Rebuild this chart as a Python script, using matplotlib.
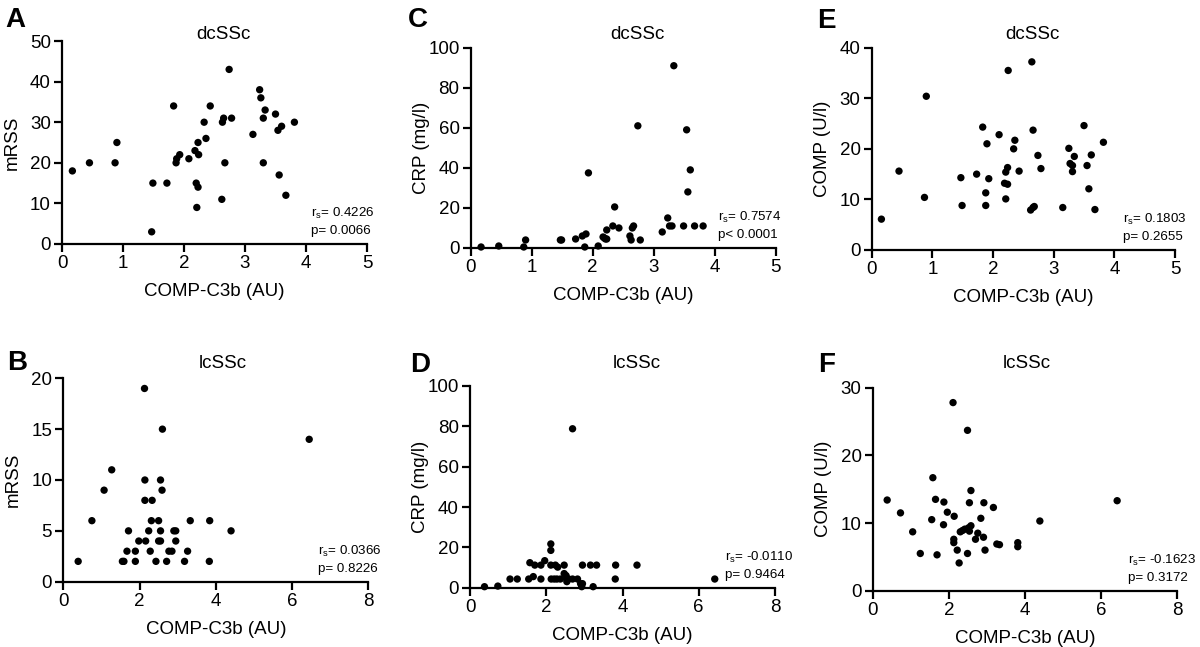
import matplotlib
matplotlib.use("Agg")
import matplotlib.pyplot as plt

plt.rcParams['font.family'] = ['Liberation Sans', 'DejaVu Sans']
plt.rcParams['mathtext.fontset'] = 'custom'
plt.rcParams['mathtext.rm'] = 'Liberation Sans'
plt.rcParams['mathtext.it'] = 'Liberation Sans'

# ---- data ----
a_x = [0.17,0.45,0.87,0.90,1.47,1.49,1.72,1.83,1.87,1.88,1.93,2.08,2.18,2.20,2.23,2.21,2.23,2.24,2.33,2.36,2.43,2.62,2.63,2.65,2.67,2.74,2.78,3.13,3.24,3.26,3.30,3.30,3.33,3.50,3.54,3.56,3.60,3.67,3.81]
a_y = [18,20,20,25,3,15,15,34,20,21,22,21,23,15,14,9,25,22,30,26,34,11,30,31,20,43,31,27,38,36,31,20,33,32,28,17,29,12,30]

c_x = [0.17,0.46,0.87,0.90,1.47,1.49,1.72,1.83,1.87,1.89,1.93,2.09,2.17,2.19,2.21,2.23,2.23,2.33,2.36,2.43,2.61,2.63,2.65,2.67,2.74,2.78,3.14,3.23,3.26,3.30,3.33,3.49,3.54,3.56,3.60,3.67,3.81]
c_y = [0.5,1,0.5,4,4,4,4.5,6,0.5,7,37.5,1,5.5,5,4.5,4.5,9,11,20.5,10,6,4,10,11,61,4,8,15,11,11,91,11,59,28,39,11,11]

e_x = [0.16,0.45,0.87,0.90,1.47,1.49,1.73,1.83,1.88,1.88,1.90,1.93,2.10,2.19,2.21,2.21,2.24,2.25,2.24,2.34,2.36,2.43,2.62,2.64,2.66,2.66,2.68,2.74,2.79,3.15,3.25,3.27,3.31,3.31,3.34,3.50,3.55,3.58,3.62,3.68,3.82]
e_y = [6.1,15.6,10.4,30.4,14.3,8.8,15,24.3,11.3,8.8,21,14.1,22.8,13.2,10.1,15.4,16.3,35.5,13,20,21.7,15.6,7.9,37.2,23.7,8.4,8.6,18.7,16.1,8.4,20.1,17.1,16.7,15.5,18.5,24.6,16.7,12.1,18.8,8,21.3]

b_x = [0.39,0.75,1.07,1.27,1.55,1.59,1.67,1.71,1.89,1.89,1.98,2.13,2.14,2.14,2.16,2.24,2.28,2.33,2.31,2.43,2.50,2.50,2.55,2.55,2.55,2.59,2.60,2.71,2.77,2.85,2.90,2.95,2.95,3.18,3.26,3.33,3.84,3.83,4.40,6.45]
b_y = [2,6,9,11,2,2,3,5,3,2,4,19,10,8,4,5,3,8,6,2,6,4,4,10,5,9,15,2,3,3,5,5,4,2,3,6,6,2,5,14]

d_x = [0.38,0.73,1.05,1.24,1.54,1.57,1.66,1.70,1.86,1.96,1.86,2.12,2.12,2.12,2.13,2.21,2.28,2.37,2.24,2.30,2.47,2.47,2.52,2.54,2.54,2.59,2.69,2.82,2.69,2.90,2.93,2.95,2.95,3.16,3.32,3.23,3.82,3.81,4.38,6.42]
d_y = [0.5,0.8,4.3,4.3,4.3,12.4,5.5,11.2,11.2,13.4,4.3,21.7,18.5,11.2,4.3,4.3,4.3,4.3,11.2,10.2,11.2,7,6,3,4.3,4.3,78.8,4.3,4.3,2,0.5,2,11.2,11.2,11.2,0.5,11.2,4.3,11.2,4.3]

f_x = [0.38,0.73,1.05,1.25,1.55,1.58,1.65,1.69,1.87,1.86,1.96,2.11,2.14,2.13,2.13,2.22,2.27,2.30,2.36,2.42,2.49,2.49,2.52,2.54,2.58,2.54,2.58,2.70,2.76,2.84,2.91,2.92,2.95,3.17,3.26,3.33,3.81,3.81,4.39,6.42]
f_y = [13.4,11.5,8.7,5.5,10.5,16.7,13.5,5.3,13.1,9.75,11.6,27.8,11,7.6,7.1,6,4.1,8.7,8.9,9.1,23.7,5.5,9.3,8.8,14.8,13,9.6,7.6,8.5,10.7,7.9,13,6,12.3,6.9,6.8,7.1,6.5,10.3,13.3]

titles = ["dcSSc", "dcSSc", "dcSSc", "lcSSc", "lcSSc", "lcSSc"]
ylabels = ["mRSS", "CRP (mg/l)", "COMP (U/l)", "mRSS", "CRP (mg/l)", "COMP (U/l)"]
letters = ["A", "C", "E", "B", "D", "F"]
rs_vals = ["0.4226", "0.7574", "0.1803", "0.0366", "-0.0110", "-0.1623"]
p_vals = ["p= 0.0066", "p< 0.0001", "p= 0.2655", "p= 0.8226", "p= 0.9464", "p= 0.3172"]
xlabel = "COMP-C3b (AU)"

W, H = 1200, 647
fig = plt.figure(figsize=(12, 6.47), dpi=100)

# axes rectangles in pixels: left, top, right, bottom
rects = [(62, 41, 367, 244), (470.7, 47.7, 775.7, 248), (871.7, 47.7, 1175, 250),
         (63.3, 378.3, 368.3, 581.7), (470, 386, 775, 587.7), (872.7, 387.7, 1177.3, 590.7)]
ylims = [50, 100, 40, 20, 100, 30]
ysteps = [10, 20, 10, 5, 20, 10]
xmaxs = [5, 5, 5, 8, 8, 8]
xsteps = [1, 1, 1, 2, 2, 2]
title_pos = [(223, 39), (637, 39), (1032, 39), (223, 368), (637, 368), (1027, 368)]
letter_pos = [(5, 27), (408, 27), (817, 28), (7, 370), (410, 372), (818, 372)]
ann_left = [311, 718, 1123, 318, 725, 1128]

datasets = [(a_x, a_y), (c_x, c_y), (e_x, e_y), (b_x, b_y), (d_x, d_y), (f_x, f_y)]

for i, ((x, y), (l, t, r, b)) in enumerate(zip(datasets, rects)):
    ax = fig.add_axes([l / W, 1 - b / H, (r - l) / W, (b - t) / H])
    ax.scatter(x, y, s=28, color='black', edgecolors='none', clip_on=False, zorder=3)
    ax.set_xlim(0, xmaxs[i])
    ax.set_ylim(0, ylims[i])
    ax.set_xticks(range(0, xmaxs[i] + 1, xsteps[i]))
    ax.set_yticks(range(0, ylims[i] + 1, ysteps[i]))
    for s in ['top', 'right']:
        ax.spines[s].set_visible(False)
    for s in ['left', 'bottom']:
        ax.spines[s].set_linewidth(1.6)
    ax.tick_params(width=1.6, length=5.5, labelsize=13.5, pad=2.5, direction='out')
    ax.set_xlabel(xlabel, fontsize=13.5, labelpad=8)
    ax.set_ylabel(ylabels[i], fontsize=13.5)
    ax.yaxis.set_label_coords(-0.135, 0.5)
    # annotation
    bx = ann_left[i]
    fig.text(bx / W, 1 - (b - 27) / H, r"r$_\mathrm{s}$= " + rs_vals[i], fontsize=9.6, va='baseline', ha='left')
    fig.text(bx / W, 1 - (b - 10) / H, p_vals[i], fontsize=9.6, va='baseline', ha='left')
    # title
    tx, ty = title_pos[i]
    fig.text(tx / W, 1 - ty / H, titles[i], fontsize=13.5, ha='center', va='baseline')
    # letter
    lx, ly = letter_pos[i]
    fig.text(lx / W, 1 - ly / H, letters[i], fontsize=20, fontweight='bold', ha='left', va='baseline')

fig.savefig("out.png", dpi=100)
